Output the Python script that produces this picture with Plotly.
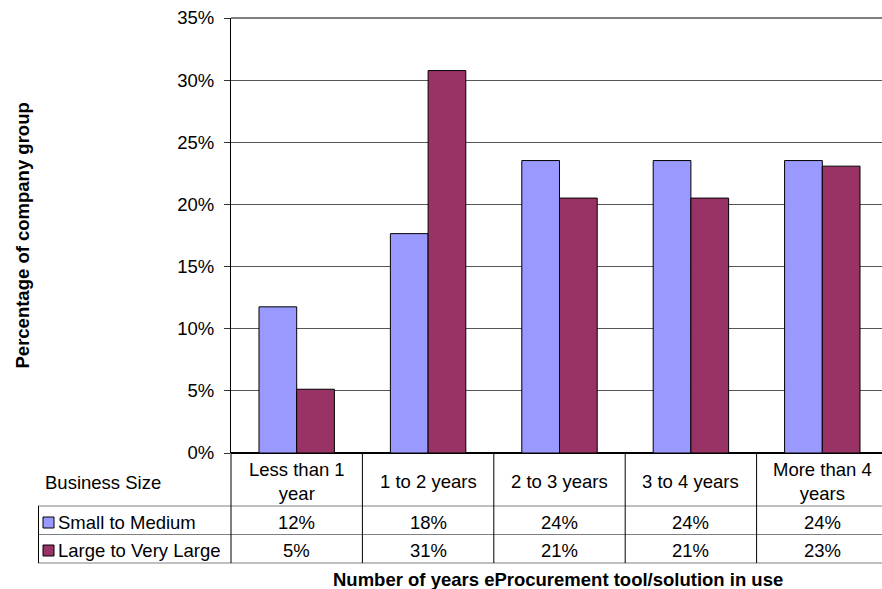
import plotly.graph_objects as go

# Survey results: share of each company group by years of eProcurement use
categories = ["Less than 1<br>year", "1 to 2 years", "2 to 3 years", "3 to 4 years", "More than 4<br>years"]
series_names = ["Small to Medium", "Large to Very Large"]
small_to_medium = [0.1176, 0.1765, 0.2353, 0.2353, 0.2353]
large_to_very_large = [0.0513, 0.3077, 0.2051, 0.2051, 0.2308]
series_colors = ["#9999FF", "#993366"]
y_ticks = [0, 0.05, 0.10, 0.15, 0.20, 0.25, 0.30, 0.35]

W_FIG, H_FIG = 882, 589
L, R, T, B = 231, 882, 18, 453          # plot area edges in pixels
CW = 131.4                               # width of one category column
X0 = -0.5
X1 = X0 + (R - L) / CW
FONT = "Liberation Sans, Arial, sans-serif"
FS = 18.5


def px(x):
    return (x - L) / (R - L)


def py(y):
    return (B - y) / (B - T)


xs = list(range(len(categories)))
fig = go.Figure()
for name, vals, col in zip(series_names, [small_to_medium, large_to_very_large], series_colors):
    fig.add_trace(go.Bar(
        x=xs, y=vals, name=name,
        marker=dict(color=col, line=dict(color="black", width=1)),
        showlegend=False, hoverinfo="skip",
    ))

shapes = []
annotations = []

# frame line along the top of the plot area
shapes.append(dict(type="line", xref="paper", yref="paper", x0=0, x1=1, y0=1, y1=1,
                   line=dict(color="black", width=1)))

# data table below the chart
row_tops = [506, 534.5, 563]
for y in row_tops:
    shapes.append(dict(type="line", xref="paper", yref="paper",
                       x0=px(38), x1=px(R + 2), y0=py(y), y1=py(y),
                       line=dict(color="#808080", width=1)))
shapes.append(dict(type="line", xref="paper", yref="paper",
                   x0=px(38.5), x1=px(38.5), y0=py(506), y1=py(563),
                   line=dict(color="black", width=1)))
for k in range(len(categories)):
    xp = L + k * CW
    shapes.append(dict(type="line", xref="paper", yref="paper",
                       x0=px(xp), x1=px(xp), y0=py(B), y1=py(563),
                       line=dict(color="black", width=1)))

font = dict(family=FONT, size=FS, color="black")

annotations.append(dict(text="Business Size", xref="paper", yref="paper",
                        x=px(43), y=py(483), xanchor="left", yanchor="middle",
                        showarrow=False, font=font))
for k, cat in enumerate(categories):
    cx = L + (k + 0.5) * CW
    annotations.append(dict(text=cat, xref="paper", yref="paper",
                            x=px(cx), y=py(481.5), xanchor="center", yanchor="middle",
                            showarrow=False, font=font))

row_centers = [522.5, 550.5]
for name, vals, col, yc in zip(series_names, [small_to_medium, large_to_very_large], series_colors, row_centers):
    # legend key square
    shapes.append(dict(type="rect", xref="paper", yref="paper",
                       x0=px(43), x1=px(54), y0=py(yc - 5.5), y1=py(yc + 5.5),
                       fillcolor=col, line=dict(color="black", width=1)))
    annotations.append(dict(text=name, xref="paper", yref="paper",
                            x=px(56), y=py(yc), xanchor="left", yanchor="middle",
                            showarrow=False, font=font))
    for k, v in enumerate(vals):
        cx = L + (k + 0.5) * CW
        annotations.append(dict(text=f"{v:.0%}", xref="paper", yref="paper",
                                x=px(cx), y=py(yc), xanchor="center", yanchor="middle",
                                showarrow=False, font=font))

# axis titles
annotations.append(dict(text="<b>Number of years eProcurement tool/solution in use</b>",
                        xref="paper", yref="paper", x=px(558), y=py(579),
                        xanchor="center", yanchor="middle", showarrow=False, font=font))
annotations.append(dict(text="<b>Percentage of company group</b>", textangle=-90,
                        xref="paper", yref="paper", x=px(22), y=py(235.5),
                        xanchor="center", yanchor="middle", showarrow=False, font=font))

fig.update_layout(
    width=W_FIG, height=H_FIG,
    margin=dict(l=L, r=W_FIG - R, t=T, b=H_FIG - B, autoexpand=False),
    paper_bgcolor="white", plot_bgcolor="white",
    barmode="group", bargap=0.426, bargroupgap=0,
    font=font,
    shapes=shapes, annotations=annotations,
    xaxis=dict(range=[X0, X1], showticklabels=False, ticks="", showgrid=False,
               zeroline=False, showline=False, fixedrange=True),
    yaxis=dict(range=[0, 0.35], tickvals=y_ticks, tickformat=".0%",
               showgrid=True, gridcolor="#555555", gridwidth=1,
               zeroline=True, zerolinecolor="black", zerolinewidth=2,
               showline=True, linecolor="black", linewidth=1,
               ticks="outside", ticklen=6, tickcolor="#333333", tickwidth=1,
               ticklabelstandoff=6, tickfont=font, fixedrange=True),
)

fig.write_html("out.html", config={"displayModeBar": False})
